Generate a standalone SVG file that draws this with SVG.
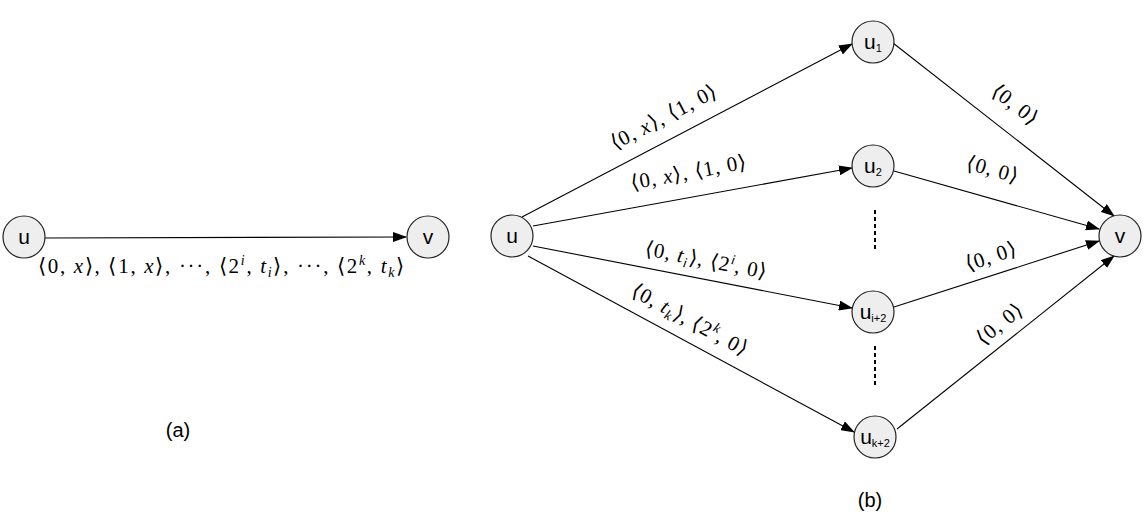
<svg xmlns="http://www.w3.org/2000/svg" width="1148" height="527" viewBox="0 0 1148 527">
<style>
.n{fill:#eeeeee;stroke:#222;stroke-width:1.2}
.nt{font-family:"Liberation Sans",Arial,sans-serif;font-size:21px;fill:#000;text-anchor:middle}
.sub{font-size:11px}
.e{stroke:#000;stroke-width:1.1;fill:none}
.m{font-family:"Liberation Serif","Times New Roman",serif;font-size:21px;fill:#000;text-anchor:middle;letter-spacing:1px}
.w{letter-spacing:1.7px}
.i{font-style:italic}
.s{font-size:14px;font-style:italic}
.cap{font-family:"Liberation Sans",Arial,sans-serif;font-size:20px;text-anchor:middle}
</style>
<defs>
<marker id="a" markerWidth="14" markerHeight="10" refX="13" refY="5" orient="auto" markerUnits="userSpaceOnUse">
<path d="M0,0 L14,5 L0,10 z" fill="#000"/>
</marker>
</defs>
<g id="connectors">
<line class="e" x1="45" y1="238" x2="406" y2="237" marker-end="url(#a)"/>
<line class="e" x1="522" y1="217" x2="852" y2="44" marker-end="url(#a)"/>
<line class="e" x1="533" y1="226" x2="852" y2="168" marker-end="url(#a)"/>
<line class="e" x1="533" y1="246" x2="852" y2="308" marker-end="url(#a)"/>
<line class="e" x1="528" y1="256" x2="854" y2="432" marker-end="url(#a)"/>
<line class="e" x1="893" y1="43" x2="1114" y2="216" marker-end="url(#a)"/>
<line class="e" x1="894" y1="171" x2="1099" y2="229" marker-end="url(#a)"/>
<line class="e" x1="894" y1="307" x2="1099" y2="241" marker-end="url(#a)"/>
<line class="e" x1="897" y1="429" x2="1114" y2="256" marker-end="url(#a)"/>
<line x1="875" y1="210" x2="875" y2="250" stroke="#000" stroke-width="2" stroke-dasharray="4,3"/>
<line x1="875" y1="346" x2="875" y2="386" stroke="#000" stroke-width="2" stroke-dasharray="4,3"/>
</g>
<g id="labels">
<text class="m w" x="222" y="273">⟨0, <tspan class="i">x</tspan>⟩, ⟨1, <tspan class="i">x</tspan>⟩, ···, ⟨2<tspan class="s" dy="-8">i</tspan><tspan dy="8">, </tspan><tspan class="i">t</tspan><tspan class="s" dy="4">i</tspan><tspan dy="-4">⟩, ···, ⟨2</tspan><tspan class="s" dy="-8">k</tspan><tspan dy="8">, </tspan><tspan class="i">t</tspan><tspan class="s" dy="4">k</tspan><tspan dy="-4">⟩</tspan></text>
<text class="m" transform="translate(667,123) rotate(-27.7)">⟨0, <tspan class="i">x</tspan>⟩, ⟨1, 0⟩</text>
<text class="m" transform="translate(690,179) rotate(-10.3)">⟨0, <tspan class="i">x</tspan>⟩, ⟨1, 0⟩</text>
<text class="m" transform="translate(705,267) rotate(11)">⟨0, <tspan class="i">t</tspan><tspan class="s" dy="4">i</tspan><tspan dy="-4">⟩, ⟨2</tspan><tspan class="s" dy="-8">i</tspan><tspan dy="8">, 0⟩</tspan></text>
<text class="m" transform="translate(687,326) rotate(28.4)">⟨0, <tspan class="i">t</tspan><tspan class="s" dy="4">k</tspan><tspan dy="-4">⟩, ⟨2</tspan><tspan class="s" dy="-8">k</tspan><tspan dy="8">, 0⟩</tspan></text>
<text class="m" transform="translate(1011,110) rotate(37.9)">⟨0, 0⟩</text>
<text class="m" transform="translate(991,176) rotate(15.8)">⟨0, 0⟩</text>
<text class="m" transform="translate(993,263) rotate(-18.2)">⟨0, 0⟩</text>
<text class="m" transform="translate(1004,329) rotate(-38.4)">⟨0, 0⟩</text>
<text class="cap" x="178" y="437">(a)</text>
<text class="cap" x="870" y="507">(b)</text>
</g>
<g id="node-a-u"><circle class="n" cx="24" cy="237" r="21"/><text class="nt" x="24" y="244">u</text></g>
<g id="node-a-v"><circle class="n" cx="428" cy="237" r="21"/><text class="nt" x="428" y="244">v</text></g>
<g id="node-b-u"><circle class="n" cx="512" cy="236" r="21"/><text class="nt" x="512" y="243">u</text></g>
<g id="node-u1"><circle class="n" cx="873" cy="42" r="21"/><text class="nt" x="873" y="49">u<tspan class="sub" dy="3">1</tspan></text></g>
<g id="node-u2"><circle class="n" cx="873" cy="166" r="21"/><text class="nt" x="873" y="173">u<tspan class="sub" dy="3">2</tspan></text></g>
<g id="node-ui2"><circle class="n" cx="873" cy="312" r="21"/><text class="nt" x="873" y="319">u<tspan class="sub" dy="3">i+2</tspan></text></g>
<g id="node-uk2"><circle class="n" cx="875" cy="437" r="21"/><text class="nt" x="875" y="444">u<tspan class="sub" dy="3">k+2</tspan></text></g>
<g id="node-b-v"><circle class="n" cx="1120" cy="236" r="21"/><text class="nt" x="1120" y="243">v</text></g>
</svg>
